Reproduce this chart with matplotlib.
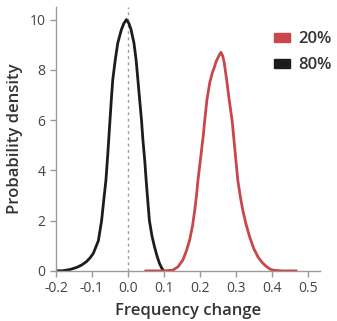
import numpy as np
import matplotlib.pyplot as plt
from matplotlib.patches import Patch

plt.rcParams['font.family'] = ['Open Sans', 'DejaVu Sans']

# density curves
black_x = [-0.2, -0.18, -0.16, -0.142, -0.128, -0.115, -0.105, -0.096, -0.082,
           -0.073, -0.066, -0.061, -0.056, -0.051, -0.046, -0.042, -0.035, -0.028,
           -0.018, -0.011, -0.004, 0.003, 0.009, 0.017, 0.023, 0.028, 0.033,
           0.038, 0.042, 0.047, 0.051, 0.056, 0.06, 0.067, 0.074, 0.081, 0.088,
           0.094, 0.1]
black_y = [0, 0.01, 0.06, 0.14, 0.24, 0.37, 0.52, 0.7, 1.2, 2.0, 2.95, 3.6,
           4.6, 5.7, 6.8, 7.6, 8.4, 9.07, 9.6, 9.85, 10.0, 9.85, 9.6, 9.07, 8.4,
           7.6, 6.8, 6.0, 5.2, 4.4, 3.6, 2.7, 2.0, 1.4, 0.97, 0.6, 0.3, 0.12, 0.0]

red_x = [0.05, 0.1, 0.125, 0.14, 0.153, 0.163, 0.172, 0.18, 0.186, 0.191,
         0.195, 0.2, 0.205, 0.21, 0.214, 0.22, 0.228, 0.235, 0.241, 0.246,
         0.253, 0.259, 0.264, 0.268, 0.275, 0.282, 0.29, 0.298, 0.306, 0.313,
         0.32, 0.329, 0.339, 0.35, 0.362, 0.374, 0.386, 0.395, 0.404, 0.43, 0.468]
red_y = [0, 0, 0.03, 0.17, 0.43, 0.8, 1.23, 1.8, 2.4, 3.0, 3.6, 4.2, 4.8,
         5.4, 6.0, 6.8, 7.5, 7.88, 8.12, 8.35, 8.55, 8.7, 8.55, 8.3, 7.6, 6.8,
         6.0, 4.8, 3.6, 2.95, 2.4, 1.85, 1.35, 0.9, 0.56, 0.33, 0.17, 0.08,
         0.03, 0, 0]

labels = ["20%", "80%"]
red = "#c9464a"
black = "#1c1c1c"
grey = "#9a9a9a"

fig = plt.figure(figsize=(3.37, 3.21), dpi=100)
ax = fig.add_axes([0.166, 0.156, 0.784, 0.822])

ax.axvline(0, color=grey, ls=(0, (2, 2.5)), lw=1, zorder=1)
ax.plot(red_x, red_y, color=red, lw=2, solid_joinstyle="round", zorder=3)
ax.plot(black_x, black_y, color=black, lw=2, solid_joinstyle="round", zorder=2)

ax.set_xlim(-0.2, 0.535)
ax.set_ylim(0, 10.5)
ax.set_xticks(np.arange(-0.2, 0.51, 0.1))
ax.set_xticklabels(["-0.2", "-0.1", "0.0", "0.1", "0.2", "0.3", "0.4", "0.5"])
ax.set_yticks([0, 2, 4, 6, 8, 10])

for s in ["top", "right"]:
    ax.spines[s].set_visible(False)
for s in ["left", "bottom"]:
    ax.spines[s].set_color(grey)
    ax.spines[s].set_linewidth(1)
ax.tick_params(colors=grey, labelcolor="#444444", labelsize=10, length=4, width=1)

ax.set_xlabel("Frequency change", fontsize=12, fontweight="semibold", color="#333333", labelpad=5)
ax.set_ylabel("Probability density", fontsize=12, fontweight="semibold", color="#333333", labelpad=5)

handles = [Patch(color=red), Patch(color=black)]
leg = ax.legend(handles, labels, loc="upper right", bbox_to_anchor=(1.1, 0.965),
                frameon=False, handlelength=0.95, handleheight=0.4,
                handletextpad=0.5, labelspacing=0.6, prop={"size": 12, "weight": "semibold"})
for t in leg.get_texts():
    t.set_color("#333333")

fig.savefig("out.png", dpi=100)
